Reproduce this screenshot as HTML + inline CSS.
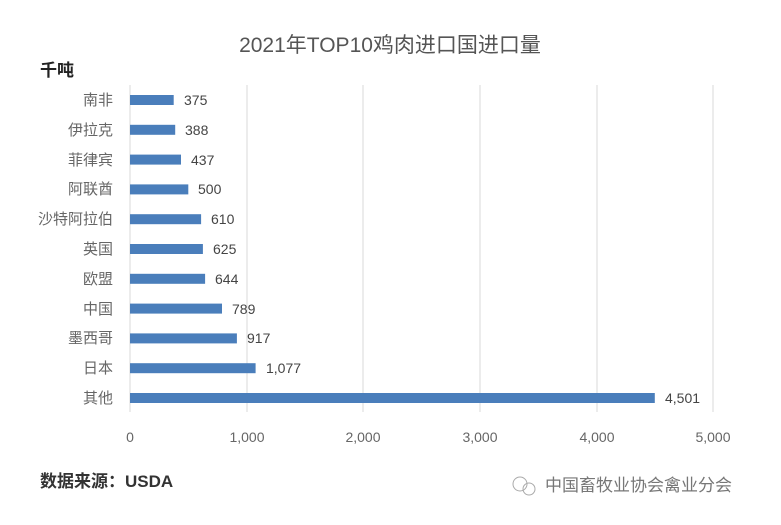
<!DOCTYPE html>
<html><head><meta charset="utf-8"><style>
body{margin:0;background:#fff;}
svg text{font-family:"Liberation Sans","Noto Sans CJK SC",sans-serif;}
</style></head><body>
<svg width="781" height="520" xmlns="http://www.w3.org/2000/svg">
<rect width="781" height="520" fill="#fff"/>
<text x="390" y="52" font-size="21" fill="#555" text-anchor="middle">2021年TOP10鸡肉进口国进口量</text>
<text x="40" y="76" font-size="17" fill="#222" font-weight="bold">千吨</text>
<g stroke="#d9d9d9" stroke-width="1">
<line x1="247" y1="85" x2="247" y2="412"/><line x1="363" y1="85" x2="363" y2="412"/>
<line x1="480" y1="85" x2="480" y2="412"/><line x1="597" y1="85" x2="597" y2="412"/>
<line x1="713" y1="85" x2="713" y2="412"/><line x1="130" y1="85" x2="130" y2="412"/>
</g>
<g font-size="15" fill="#666" text-anchor="end">
<text x="113" y="105">南非</text>
<text x="113" y="135">伊拉克</text>
<text x="113" y="165">菲律宾</text>
<text x="113" y="194">阿联酋</text>
<text x="113" y="224">沙特阿拉伯</text>
<text x="113" y="254">英国</text>
<text x="113" y="284">欧盟</text>
<text x="113" y="314">中国</text>
<text x="113" y="343">墨西哥</text>
<text x="113" y="373">日本</text>
<text x="113" y="403">其他</text>
</g>
<g fill="#4a7ebb">
<rect x="130" y="95" width="43.7" height="10"/>
<rect x="130" y="124.8" width="45.2" height="10"/>
<rect x="130" y="154.6" width="51" height="10"/>
<rect x="130" y="184.4" width="58.3" height="10"/>
<rect x="130" y="214.2" width="71.1" height="10"/>
<rect x="130" y="244" width="72.9" height="10"/>
<rect x="130" y="273.8" width="75.1" height="10"/>
<rect x="130" y="303.6" width="92" height="10"/>
<rect x="130" y="333.4" width="106.9" height="10"/>
<rect x="130" y="363.2" width="125.6" height="10"/>
<rect x="130" y="393" width="524.8" height="10"/>
</g>
<g font-size="14" fill="#444">
<text x="184" y="105">375</text>
<text x="185" y="135">388</text>
<text x="191" y="165">437</text>
<text x="198" y="194">500</text>
<text x="211" y="224">610</text>
<text x="213" y="254">625</text>
<text x="215" y="284">644</text>
<text x="232" y="314">789</text>
<text x="247" y="343">917</text>
<text x="266" y="373">1,077</text>
<text x="665" y="403">4,501</text>
</g>
<g font-size="14" fill="#666" text-anchor="middle">
<text x="130" y="442">0</text><text x="247" y="442">1,000</text><text x="363" y="442">2,000</text>
<text x="480" y="442">3,000</text><text x="597" y="442">4,000</text><text x="713" y="442">5,000</text>
</g>
<text x="40" y="487" font-size="17" fill="#333" font-weight="bold">数据来源：USDA</text>
<circle cx="520" cy="484" r="7" fill="none" stroke="#aaa"/>
<circle cx="529" cy="489" r="6" fill="none" stroke="#aaa"/>
<text x="545" y="491" font-size="17" fill="#777">中国畜牧业协会禽业分会</text>
</svg>
</body></html>
